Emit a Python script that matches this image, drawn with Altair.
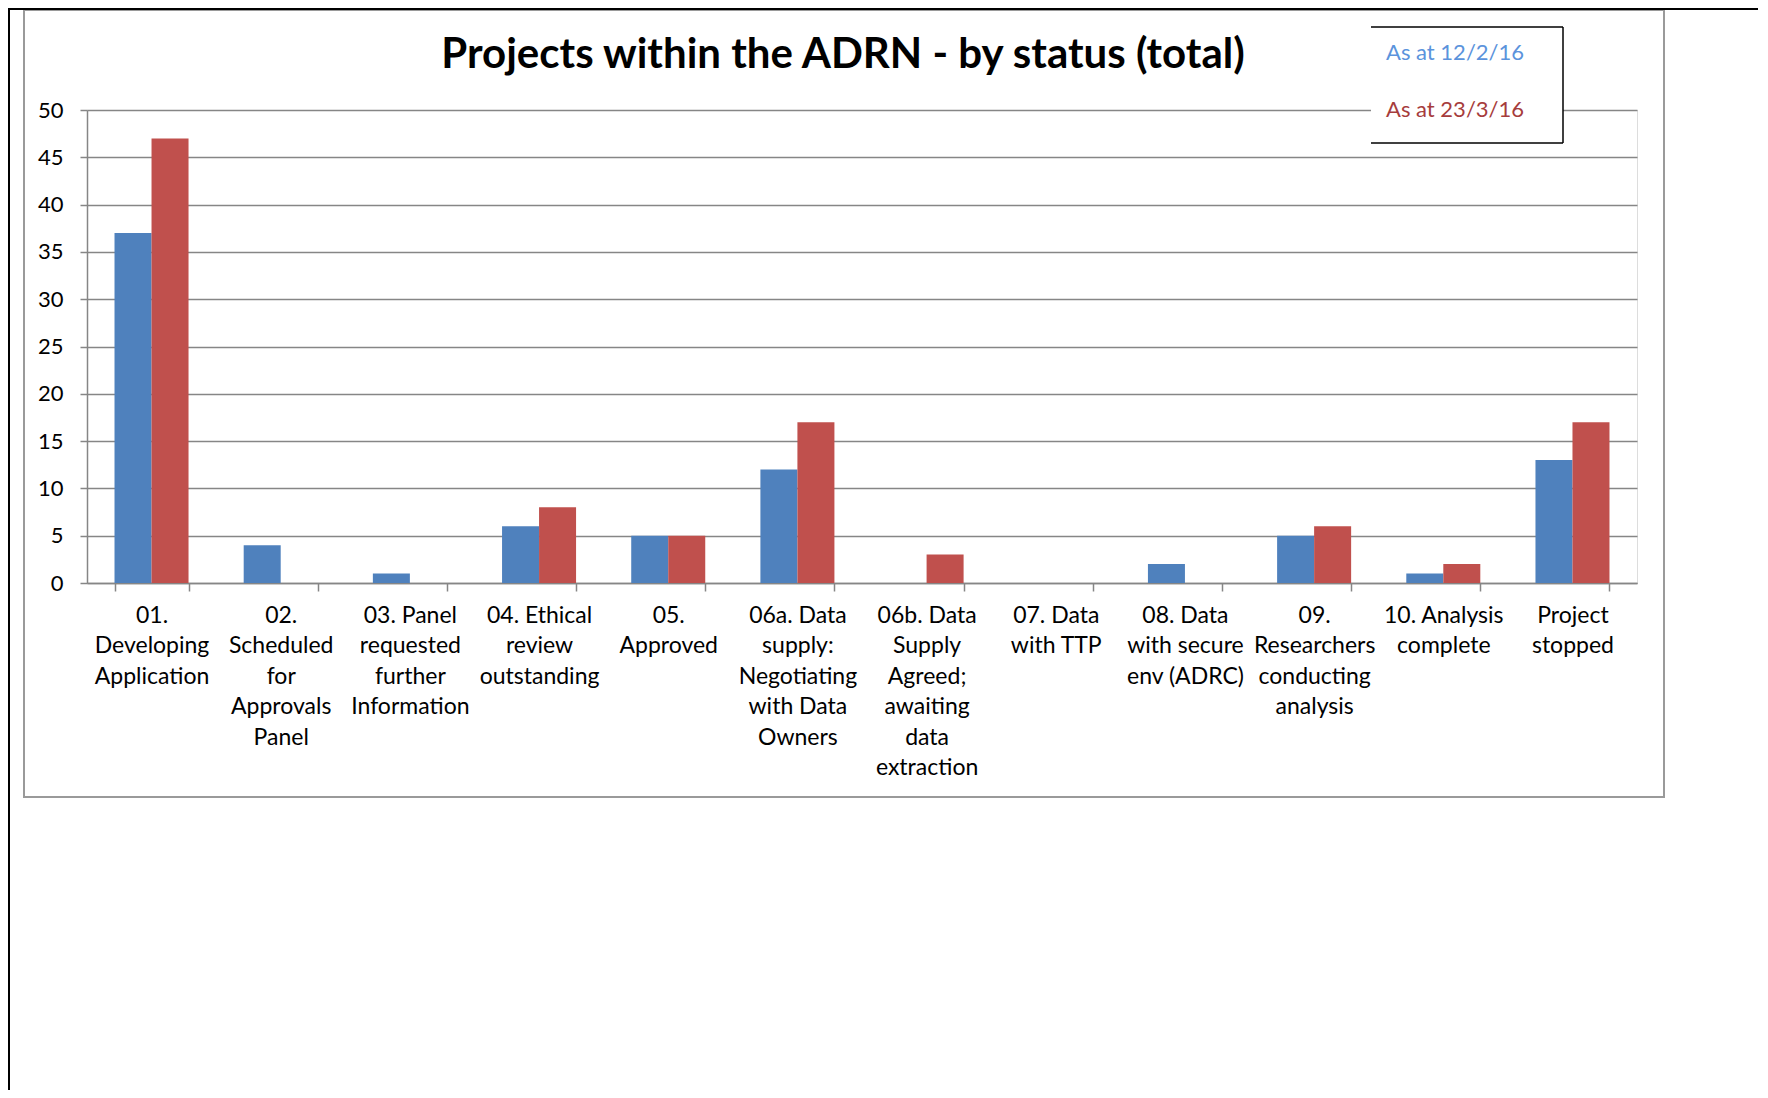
import altair as alt
import pandas as pd

categories = [
    "01.\nDeveloping\nApplication",
    "02.\nScheduled\nfor\nApprovals\nPanel",
    "03. Panel\nrequested\nfurther\nInformation",
    "04. Ethical\nreview\noutstanding",
    "05.\nApproved",
    "06a. Data\nsupply:\nNegotiating\nwith Data\nOwners",
    "06b. Data\nSupply\nAgreed;\nawaiting\ndata\nextraction",
    "07. Data\nwith TTP",
    "08. Data\nwith secure\nenv (ADRC)",
    "09.\nResearchers\nconducting\nanalysis",
    "10. Analysis\ncomplete",
    "Project\nstopped",
]
series = ["As at 12/2/16", "As at 23/3/16"]
values_feb = [37, 4, 1, 6, 5, 12, 0, 0, 2, 5, 1, 13]
values_mar = [47, 0, 0, 8, 5, 17, 3, 0, 0, 6, 2, 17]
bar_colors = ["#4F81BD", "#C0504D"]
legend_text_colors = ["#5B93DC", "#A63C3C"]
title_text = "Projects within the ADRN - by status (total)"

rows = []
for i, c in enumerate(categories):
    rows.append({"category": c, "series": series[0], "value": values_feb[i]})
    rows.append({"category": c, "series": series[1], "value": values_mar[i]})
df = pd.DataFrame(rows)

FONT = "Lato"
W, H = 1550, 473
one = pd.DataFrame({"a": [0]})

bars = alt.Chart(df).mark_bar().encode(
    x=alt.X("category:N", sort=categories, title=None,
            scale=alt.Scale(paddingInner=0.427, paddingOuter=0.213),
            axis=alt.Axis(labelAngle=0, labelExpr="split(datum.label, '\\n')",
                          labelFont=FONT, labelFontSize=23, labelColor="#000000",
                          labelLineHeight=30.5, labelPadding=13, labelBaseline="top",
                          tickBand="extent", tickSize=8, tickColor="#868686", tickWidth=1.5,
                          domainColor="#868686", domainWidth=1.5, grid=False,
                          labelLimit=200)),
    xOffset=alt.XOffset("series:N", sort=series),
    y=alt.Y("value:Q", title=None,
            scale=alt.Scale(domain=[0, 50], nice=False),
            axis=alt.Axis(values=list(range(0, 51, 5)), labelFont=FONT, labelFontSize=22,
                          labelColor="#000000", labelPadding=17, tickSize=7,
                          tickColor="#868686", tickWidth=1.5, domainColor="#868686",
                          domainWidth=1.5, gridColor="#868686", gridWidth=1.3)),
    color=alt.Color("series:N", scale=alt.Scale(domain=series, range=bar_colors), legend=None),
)

# chart frame (gray) and page edges (black)
frame = alt.Chart(one).mark_rect(fill=None, stroke="#9a9a9a", strokeWidth=2).encode(
    x=alt.value(-63), x2=alt.value(1577), y=alt.value(-100), y2=alt.value(687))
page_left = alt.Chart(one).mark_rule(color="#000000", strokeWidth=2).encode(
    x=alt.value(-78), y=alt.value(-102), y2=alt.value(1000))
page_top = alt.Chart(one).mark_rule(color="#000000", strokeWidth=2).encode(
    x=alt.value(-79), x2=alt.value(1680), y=alt.value(-101))

title = alt.Chart(one).mark_text(font=FONT, fontSize=42, fontWeight="bold",
                                 align="center", baseline="middle", color="#000000").encode(
    x=alt.value(756), y=alt.value(-55), text=alt.value(title_text))

# legend box
leg_bg = alt.Chart(one).mark_rect(fill="white").encode(
    x=alt.value(1284), x2=alt.value(1476), y=alt.value(-83), y2=alt.value(33))
leg_top = alt.Chart(one).mark_rule(color="#000000", strokeWidth=1.5).encode(
    x=alt.value(1284), x2=alt.value(1476), y=alt.value(-83))
leg_bot = alt.Chart(one).mark_rule(color="#000000", strokeWidth=1.5).encode(
    x=alt.value(1284), x2=alt.value(1476), y=alt.value(33))
leg_right = alt.Chart(one).mark_rule(color="#000000", strokeWidth=1.5).encode(
    x=alt.value(1476), y=alt.value(-83), y2=alt.value(33))
leg1 = alt.Chart(one).mark_text(font=FONT, fontSize=22, align="left", baseline="middle",
                                color=legend_text_colors[0]).encode(
    x=alt.value(1299), y=alt.value(-57), text=alt.value(series[0]))
leg2 = alt.Chart(one).mark_text(font=FONT, fontSize=22, align="left", baseline="middle",
                                color=legend_text_colors[1]).encode(
    x=alt.value(1299), y=alt.value(0), text=alt.value(series[1]))

chart = alt.layer(frame, page_left, page_top, bars, title, leg_bg, leg_top, leg_bot,
                  leg_right, leg1, leg2).properties(
    width=W, height=H,
    autosize=alt.AutoSizeParams(type="none"),
    padding={"left": 79, "top": 102, "right": 121, "bottom": 507},
).configure_view(stroke=None).configure(background="white")

chart.save("out.html", embed_options={"renderer": "svg", "actions": False})
